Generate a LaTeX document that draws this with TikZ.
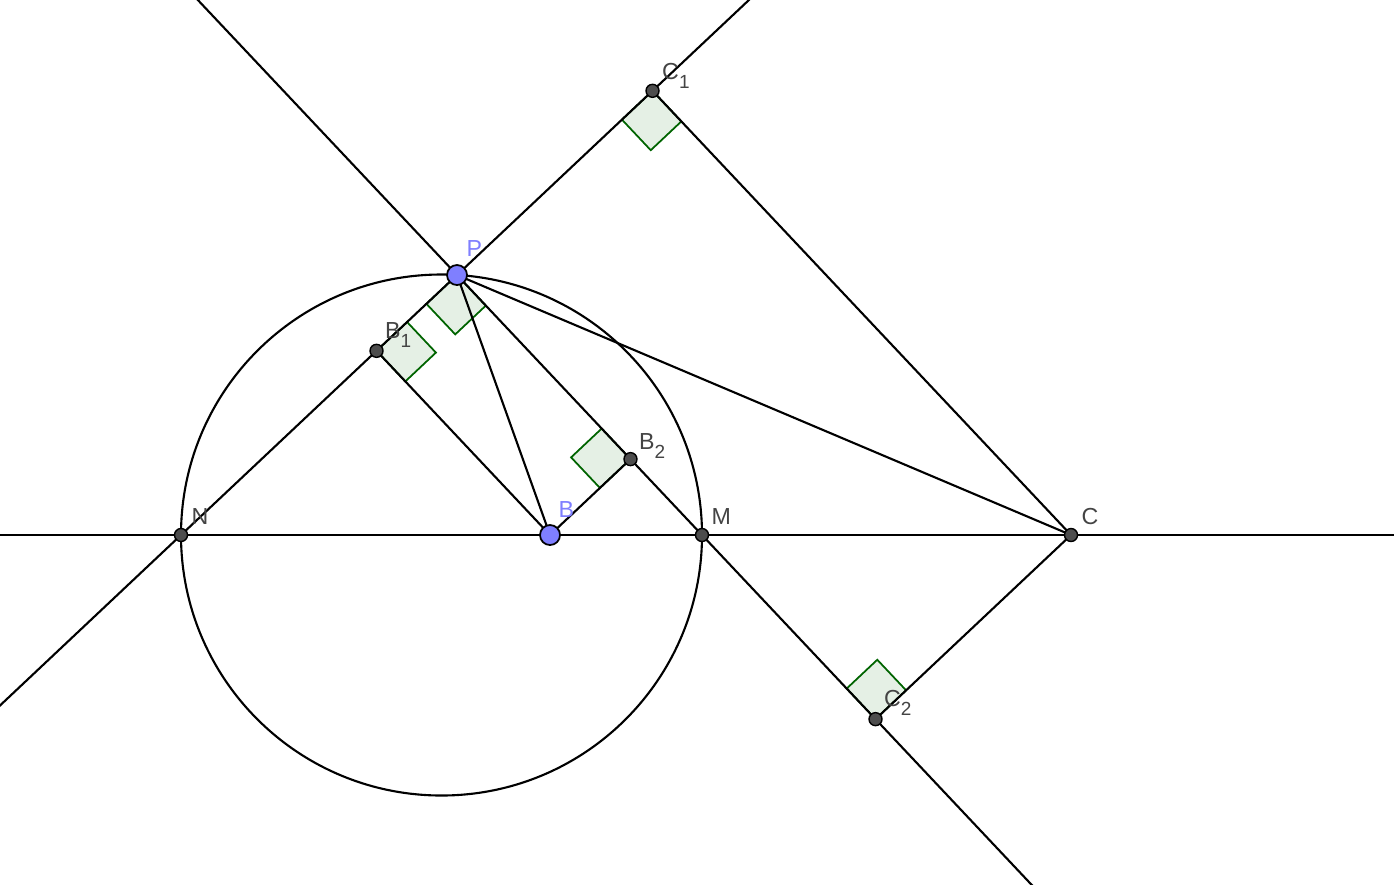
\documentclass[tikz,border=0pt]{standalone}
\usepackage{fontspec}
\setmainfont{Liberation Sans}
\usetikzlibrary{calc}
\definecolor{ptblue}{RGB}{127,127,255}
\definecolor{ptgray}{RGB}{77,77,77}
\definecolor{lblgray}{RGB}{68,68,68}
\definecolor{markfill}{RGB}{229,240,229}
\definecolor{markline}{RGB}{0,100,0}
\tikzset{
  ln/.style={line width=0.6pt, black},
  rmark/.style={fill=markfill, draw=markline, line width=0.5pt},
  dot/.style={circle, fill=ptgray, draw=black, line width=0.4pt, inner sep=0pt, minimum size=0.13cm},
  bigdot/.style={circle, fill=ptblue, draw=black, line width=0.5pt, inner sep=0pt, minimum size=0.2cm},
  lbl/.style={anchor=base west, inner sep=0pt, text=lblgray, font=\fontsize{6.6}{7}\selectfont},
  blbl/.style={lbl, text=ptblue},
}
\newcommand{\subidx}[1]{\raisebox{-2.6pt}{\fontsize{5.4}{6}\selectfont #1}}
% right angle mark: corner, first leg, second leg
\newcommand{\perpmark}[3]{%
  \coordinate (ra) at ($(#1)!0.42cm!(#2)$);
  \coordinate (rb) at ($(#1)!0.42cm!(#3)$);
  \filldraw[rmark] (#1) -- (ra) -- ($(ra)+(rb)-(#1)$) -- (rb) -- cycle;
}

\begin{document}
\begin{tikzpicture}[x=0.01cm, y=-0.01cm]
  \useasboundingbox (0,0) rectangle (1394,884);
  \clip (0,0) rectangle (1394,884);

  % points
  \coordinate (O) at (441.5,535);
  \coordinate (N) at (181,535);
  \coordinate (M) at (702,535);
  \coordinate (B) at (550,535);
  \coordinate (C) at (1071,535);
  \coordinate (P) at (457,275);
  \coordinate (B1) at ($(P)!(B)!(N)$);
  \coordinate (B2) at ($(P)!(B)!(M)$);
  \coordinate (C1) at ($(P)!(C)!(N)$);
  \coordinate (C2) at ($(P)!(C)!(M)$);

  % right angles
  \perpmark{P}{N}{M}
  \perpmark{B1}{P}{B}
  \perpmark{B2}{P}{B}
  \perpmark{C1}{P}{C}
  \perpmark{C2}{M}{C}

  % lines and circle
  \draw[ln] ($(N)!-5!(M)$) -- ($(N)!5!(M)$);
  \draw[ln] ($(N)!-3!(P)$) -- ($(N)!4!(P)$);
  \draw[ln] ($(M)!-3!(P)$) -- ($(M)!4!(P)$);
  \draw[ln] (O) circle[radius=260.5];
  \draw[ln] (P) -- (B);
  \draw[ln] (P) -- (C);
  \draw[ln] (B1) -- (B) -- (B2);
  \draw[ln] (C1) -- (C) -- (C2);

  % dots
  \foreach \p in {N,M,C,B1,B2,C1,C2}
    \node[dot] (dot\p) at (\p) {};
  \node[bigdot] (dotB) at (B) {};
  \node[bigdot] (dotP) at (P) {};

  % labels
  \node[lbl] (lblN) at ($(N)+(10,-11)$) {N};
  \node[lbl] (lblM) at ($(M)+(9,-11)$) {M};
  \node[lbl] (lblC) at ($(C)+(10,-11)$) {C};
  \node[blbl] (lblB) at ($(B)+(8,-18)$) {B};
  \node[blbl] (lblP) at ($(P)+(9,-19)$) {P};
  \node[lbl] (lblB1) at ($(B1)+(8,-12)$) {B\subidx{1}};
  \node[lbl] (lblB2) at ($(B2)+(8,-10)$) {B\subidx{2}};
  \node[lbl] (lblC1) at ($(C1)+(9,-11)$) {C\subidx{1}};
  \node[lbl] (lblC2) at ($(C2)+(8,-13)$) {C\subidx{2}};
\end{tikzpicture}
\end{document}
